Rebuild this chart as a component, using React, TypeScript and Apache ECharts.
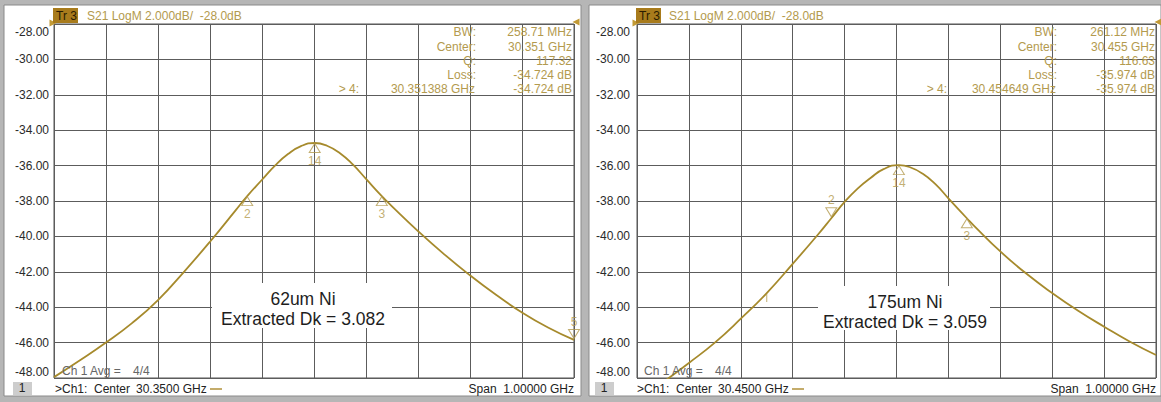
import React, { useEffect, useRef } from "react";
import * as echarts from "echarts";

// Sweep centres (GHz); both sweeps span 1 GHz, shown as MHz offset from centre
const leftCenterGHz = 30.35;
const rightCenterGHz = 30.45;

// 62um Ni sample: S21 magnitude (dB) vs frequency (GHz)
const leftFreqGHz = [
  29.85, 29.9, 29.95, 30.0, 30.05, 30.1, 30.15, 30.2, 30.2216, 30.25, 30.275, 30.3, 30.325,
  30.351388, 30.375, 30.4, 30.425, 30.45, 30.4804, 30.5, 30.55, 30.6, 30.65, 30.7, 30.75,
  30.8, 30.85,
];
const leftS21dB = [
  -47.95, -47.0, -46.0, -44.9, -43.6, -42.0, -40.3, -38.5, -37.724, -36.8, -36.0, -35.35,
  -34.9, -34.724, -34.88, -35.3, -35.95, -36.75, -37.724, -38.3, -39.7, -41.0, -42.2,
  -43.3, -44.3, -45.15, -45.85,
];

// 175um Ni sample
const rightFreqGHz = [
  29.95, 30.0, 30.05, 30.1, 30.15, 30.2, 30.25, 30.3, 30.3244, 30.35, 30.375, 30.4, 30.425,
  30.454649, 30.475, 30.5, 30.525, 30.55, 30.5856, 30.6, 30.65, 30.7, 30.75, 30.8, 30.85,
  30.9, 30.95,
];
const rightS21dB = [
  -49.4, -48.25, -47.15, -46.0, -44.65, -43.2, -41.55, -39.85, -38.974, -38.05, -37.3, -36.7,
  -36.2, -35.974, -36.08, -36.45, -37.05, -37.85, -38.974, -39.42, -40.85, -42.1, -43.2,
  -44.2, -45.1, -45.95, -46.7,
];

// Markers (name, frequency, level, triangle direction)
const leftMarkerNames = ["2", "14", "3", "5"];
const leftMarkerFreqGHz = [30.2216, 30.351388, 30.4804, 30.85];
const leftMarkerdB = [-37.724, -34.724, -37.724, -45.85];
const leftMarkerDir = ["up", "up", "up", "down"];

const rightMarkerNames = ["2", "14", "3", "1"];
const rightMarkerFreqGHz = [30.3244, 30.454649, 30.5856, 30.2];
const rightMarkerdB = [-38.974, -35.974, -38.974, -43.2];
const rightMarkerDir = ["down", "up", "up", "tick"];

// Marker readouts
const readoutLabels = ["BW:", "Center:", "Q:", "Loss:"];
const leftReadoutValues = ["258.71 MHz", "30.351 GHz", "117.32", "-34.724 dB"];
const rightReadoutValues = ["261.12 MHz", "30.455 GHz", "116.63", "-35.974 dB"];
const leftActiveMarker = ["> 4:", "30.351388 GHz", "-34.724 dB"];
const rightActiveMarker = ["> 4:", "30.454649 GHz", "-35.974 dB"];

const centerLabels = ["30.3500 GHz", "30.4500 GHz"];
const sampleLabels = ["62um Ni", "175um Ni"];
const dkLabels = ["Extracted Dk = 3.082", "Extracted Dk = 3.059"];

const Y_MIN = -48;
const Y_MAX = -28;
const Y_STEP = 2;
const X_HALF_SPAN_MHZ = 500;
const X_STEP_MHZ = 100;

const GOLD = "#b39a4e";
const TRACE = "#a68a2c";
const GRID_LINE = "#5c5c5c";
const FONT = "'Liberation Sans', Arial, sans-serif";
const NOTE_FONT = "17.5px 'Liberation Sans', Arial, sans-serif";

const grids = [
  { left: 54, top: 24, width: 520, height: 354 },
  { left: 637, top: 24, width: 519, height: 354 },
];

function toOffset(f: number, center: number) {
  return Math.round((f - center) * 1e6) / 1e3;
}

function traceSeries(idx: number, freqs: number[], vals: number[], center: number) {
  return {
    type: "line",
    xAxisIndex: idx,
    yAxisIndex: idx,
    data: freqs.map((f, i) => [toOffset(f, center), vals[i]]),
    smooth: 0.5,
    showSymbol: false,
    clip: true,
    lineStyle: { color: TRACE, width: 1.8 },
    z: 3,
    silent: true,
    markPoint: {
      symbol: "triangle",
      symbolSize: [7, 7],
      silent: true,
      label: { show: false },
      itemStyle: { color: "#c29a36" },
      data: [
        { coord: [-X_HALF_SPAN_MHZ, Y_MAX], symbolRotate: -90, symbolOffset: [-1, -1] },
        { coord: [X_HALF_SPAN_MHZ, Y_MAX], symbolRotate: 90, symbolOffset: [2, -2] },
      ],
    },
  };
}

function markerSeries(
  idx: number,
  names: string[],
  freqs: number[],
  vals: number[],
  dirs: string[],
  center: number
) {
  return {
    type: "scatter",
    xAxisIndex: idx,
    yAxisIndex: idx,
    z: 4,
    silent: true,
    clip: false,
    symbol: "triangle",
    symbolSize: [11, 9],
    itemStyle: { color: "rgba(255,255,255,0)", borderColor: GOLD, borderWidth: 1 },
    label: {
      show: true,
      color: GOLD,
      fontFamily: FONT,
      fontSize: 12,
      formatter: (p: any) => p.name,
    },
    data: names.map((n, i) => {
      const base = { name: n, value: [toOffset(freqs[i], center), vals[i]] };
      if (dirs[i] === "down") {
        return {
          ...base,
          symbolRotate: 180,
          symbolOffset: [0, -6],
          label: { position: "top", distance: 1 },
        };
      }
      if (dirs[i] === "tick") {
        return {
          ...base,
          symbol: "rect",
          symbolSize: [1, 8],
          symbolOffset: [0, 5],
          itemStyle: { color: GOLD, borderWidth: 0 },
          label: { show: false },
        };
      }
      return { ...base, symbolOffset: [0, 5], label: { position: "bottom", distance: 2 } };
    }),
  };
}

function txt(
  x: number,
  y: number,
  text: string,
  fill: string,
  align: string = "left",
  font: string = `12px ${FONT}`,
  z = 20
) {
  return {
    type: "text",
    x,
    y,
    z,
    silent: true,
    style: { text, fill, font, align, verticalAlign: "middle" },
  };
}

function panelGraphics(p: number) {
  const dx = p === 0 ? 0 : 582;
  const readout = p === 0 ? leftReadoutValues : rightReadoutValues;
  const active = p === 0 ? leftActiveMarker : rightActiveMarker;
  const labelRight = p === 0 ? 476 : 1057;
  const valueRight = p === 0 ? 572 : 1155;
  const activeRight = p === 0 ? 359 : 947;
  const rowY = [32, 47, 61, 75, 89];
  const g = grids[p];
  const box = p === 0 ? { x: 212, y: 283, w: 180, h: 45 } : { x: 818, y: 286, w: 172, h: 44 };
  const cx = box.x + box.w / 2 + 1;
  const cy = box.y + box.h / 2;
  const els: any[] = [
    // trace title bar
    {
      type: "rect",
      z: 19,
      silent: true,
      shape: { x: g.left - 1, y: 8, width: 25, height: 15 },
      style: { fill: "#a87b1c" },
    },
    txt(g.left + 2, 16, "Tr 3", "#2a1c00"),
    txt(87 + dx, 16, "S21 LogM 2.000dB/  -28.0dB", GOLD),
    // footer
    {
      type: "rect",
      z: 19,
      silent: true,
      shape: { x: 13 + dx, y: 382, width: 19, height: 13 },
      style: { fill: "#cdcdcd" },
    },
    txt(22 + dx, 388, "1", "#222", "center"),
    txt(55 + dx, 389, ">Ch1:  Center", "#222"),
    txt(136 + dx, 389, centerLabels[p], "#222"),
    {
      type: "line",
      z: 19,
      silent: true,
      shape: { x1: 210 + dx, y1: 389, x2: 222 + dx, y2: 389 },
      style: { stroke: "#b0913a", lineWidth: 1.5 },
    },
    txt(g.left + g.width, 389, "Span  1.00000 GHz", "#222", "right"),
    txt(62 + dx, 371, "Ch 1 Avg =", "#666"),
    txt(133 + dx, 371, "4/4", "#666"),
    // sample annotation
    {
      type: "rect",
      z: 10,
      silent: true,
      shape: { x: box.x, y: box.y, width: box.w, height: box.h },
      style: { fill: "#ffffff" },
    },
    txt(cx, cy - 6.5, sampleLabels[p], "#1e1e1e", "center", NOTE_FONT, 11),
    txt(cx, cy + 13.5, dkLabels[p], "#1e1e1e", "center", NOTE_FONT, 11),
  ];
  readoutLabels.forEach((l, i) => {
    els.push(txt(labelRight, rowY[i], l, GOLD, "right"));
    els.push(txt(valueRight, rowY[i], readout[i], GOLD, "right"));
  });
  els.push(txt(activeRight, rowY[4], active[0], GOLD, "right"));
  els.push(txt(labelRight - 1, rowY[4], active[1], GOLD, "right"));
  els.push(txt(valueRight, rowY[4], active[2], GOLD, "right"));
  return els;
}

function yLabel(v: number) {
  const s = v.toFixed(2);
  if (v === Y_MAX) return `{top|${s}}`;
  if (v === Y_MIN) return `{bot|${s}}`;
  return `{n|${s}}`;
}

function buildOption() {
  const labelTok = { color: "#2a2a2a", fontSize: 12, fontFamily: FONT };
  const axes = [0, 1];
  return {
    animation: false,
    backgroundColor: "#b6b6b6",
    grid: grids.map((g) => ({
      ...g,
      show: true,
      backgroundColor: "#ffffff",
      borderColor: "#555555",
      borderWidth: 1,
    })),
    xAxis: axes.map((i) => ({
      type: "value",
      gridIndex: i,
      min: -X_HALF_SPAN_MHZ,
      max: X_HALF_SPAN_MHZ,
      interval: X_STEP_MHZ,
      axisLine: { show: false },
      axisTick: { show: false },
      axisLabel: { show: false },
      splitLine: { show: true, lineStyle: { color: GRID_LINE, width: 1 } },
    })),
    yAxis: axes.map((i) => ({
      type: "value",
      gridIndex: i,
      min: Y_MIN,
      max: Y_MAX,
      interval: Y_STEP,
      axisLine: { show: false },
      axisTick: { show: false },
      splitLine: { show: true, lineStyle: { color: GRID_LINE, width: 1 } },
      axisLabel: {
        margin: i === 0 ? 5 : 7,
        formatter: yLabel,
        rich: {
          n: { ...labelTok },
          top: { ...labelTok, padding: [16, 0, 0, 0] },
          bot: { ...labelTok, padding: [0, 0, 12, 0] },
        },
      },
    })),
    series: [
      traceSeries(0, leftFreqGHz, leftS21dB, leftCenterGHz),
      traceSeries(1, rightFreqGHz, rightS21dB, rightCenterGHz),
      markerSeries(0, leftMarkerNames, leftMarkerFreqGHz, leftMarkerdB, leftMarkerDir, leftCenterGHz),
      markerSeries(1, rightMarkerNames, rightMarkerFreqGHz, rightMarkerdB, rightMarkerDir, rightCenterGHz),
    ],
    graphic: [
      // instrument window panels
      {
        type: "rect",
        z: -10,
        silent: true,
        shape: { x: 4, y: 5, width: 577, height: 391 },
        style: { fill: "#ffffff", stroke: "#8a8a8a", lineWidth: 1 },
      },
      {
        type: "rect",
        z: -10,
        silent: true,
        shape: { x: 589, y: 5, width: 572, height: 391 },
        style: { fill: "#ffffff", stroke: "#8a8a8a", lineWidth: 1 },
      },
      ...panelGraphics(0),
      ...panelGraphics(1),
    ],
  };
}

export default function App() {
  const ref = useRef<HTMLDivElement>(null);
  useEffect(() => {
    if (!ref.current) return;
    const chart = echarts.init(ref.current, null, { renderer: "svg" });
    chart.setOption(buildOption() as any);
    return () => chart.dispose();
  }, []);
  return (
    <div
      ref={ref}
      style={{ position: "fixed", left: 0, top: 0, width: 1161, height: 402 }}
    />
  );
}
